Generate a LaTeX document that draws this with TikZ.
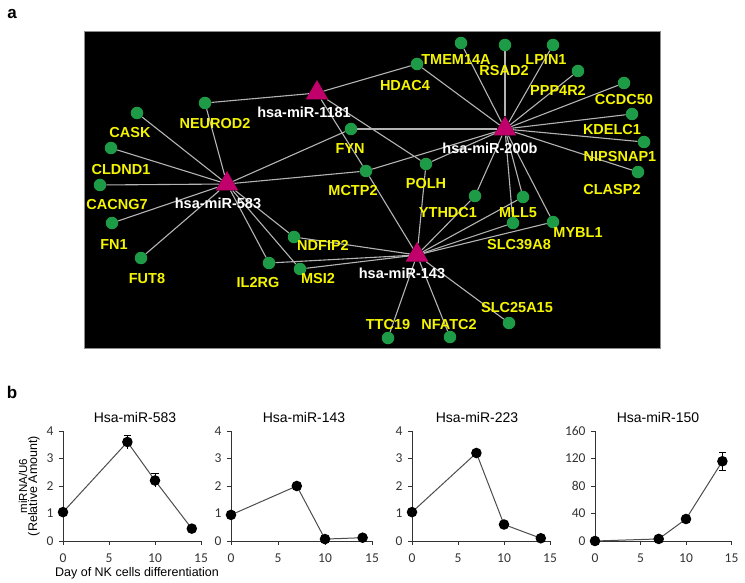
\documentclass[tikz,border=0pt]{standalone}
\usepackage{fontspec}
\setmainfont{Liberation Sans}
\newfontfamily\tickfont{Carlito}
\usepackage{tikz}
\usetikzlibrary{shapes.geometric,backgrounds}
\definecolor{netGreen}{HTML}{1E9B46}
\definecolor{netPink}{HTML}{C2006B}
\definecolor{netYellow}{HTML}{F5F500}
\definecolor{netEdge}{HTML}{B4B4B4}

\begin{document}
\begin{tikzpicture}[x=1pt, y=-1pt,
  every node/.style={font=\fontsize{14.5}{16}\selectfont\bfseries},
  gene/.style={circle, fill=netGreen, minimum size=12.5pt, inner sep=0pt},
  mir/.style={regular polygon, regular polygon sides=3, fill=netPink, minimum size=26pt, inner sep=0pt},
  glab/.style={text=netYellow, inner sep=0pt},
  mlab/.style={text=white, inner sep=0pt},
  edge/.style={netEdge, line width=1.1pt},
  panel/.style={font=\fontsize{17}{18}\selectfont\bfseries},
  ptitle/.style={font=\fontsize{14}{16}\selectfont},
  axlab/.style={font=\fontsize{12.5}{14}\selectfont},
  axisln/.style={line width=0.9pt, black!80},
  series/.style={line width=1pt, black!70},
  errbar/.style={line width=0.9pt, black},
  xtick/.style={below=6pt, inner sep=2pt, font=\tickfont\fontsize{13.5}{14}\selectfont},
  ytick/.style={left=4pt, inner sep=1pt, font=\tickfont\fontsize{13.5}{14}\selectfont}
]
  \useasboundingbox (0,0) rectangle (745,583);

  % panel a: network
  \node[panel] (pa) at (12,14) {a};
  \foreach \g/\dx/\dy/\lx/\ly in {
      NEUROD2/205/103/215/124, CASK/137/113/130/133, CLDND1/111/148/121/170,
      CACNG7/100/185/117/205, FN1/112/223/114/245, FUT8/141/258/147/279,
      IL2RG/269/263/258/283, MSI2/300/269/318/279, NDFIP2/294/237/323/245,
      MCTP2/366/171/353/191, FYN/351/129/350/149, POLH/426/164/426/184,
      HDAC4/417/64/405/86, TMEM14A/461/43/456/60, RSAD2/505/45/504/71,
      LPIN1/553/45/546/60, PPP4R2/578/71/558/90, CCDC50/624/83/624/100,
      KDELC1/632/114/612/130, NIPSNAP1/644/142/620/157, CLASP2/638/172/612/190,
      YTHDC1/475/196/448/213, MLL5/523/197/518/213, SLC39A8/513/223/519/245,
      MYBL1/553/222/578/233, SLC25A15/509/323/517/308, NFATC2/450/337/449/325,
      TTC19/388/338/388/325}
  {
    \node[gene] (\g) at (\dx,\dy) {};
    \node[glab] (\g-txt) at (\lx,\ly) {\g};
  }
  \node[mir] (m1181) at (317,93) {};
  \node[mlab] (m1181-txt) at (304,112) {hsa-miR-1181};
  \node[mir] (m583) at (227,184) {};
  \node[mlab] (m583-txt) at (218,203) {hsa-miR-583};
  \node[mir] (m200b) at (505,129) {};
  \node[mlab] (m200b-txt) at (490,148) {hsa-miR-200b};
  \node[mir] (m143) at (417,255) {};
  \node[mlab] (m143-txt) at (402,273) {hsa-miR-143};

  \begin{pgfonlayer}{background}
    \fill[black] (84,31) rectangle (660,348);
    \draw[black!45] (84,31) rectangle (660,348);
    \foreach \g in {NEUROD2,HDAC4,MCTP2,POLH}
      \draw[edge] (m1181) -- (\g);
    \foreach \g in {CASK,CLDND1,CACNG7,FN1,FUT8,NEUROD2,FYN,MCTP2,NDFIP2,IL2RG,MSI2}
      \draw[edge] (m583) -- (\g);
    \foreach \g in {HDAC4,TMEM14A,RSAD2,LPIN1,PPP4R2,CCDC50,KDELC1,NIPSNAP1,CLASP2,
                    FYN,MCTP2,POLH,YTHDC1,MLL5,SLC39A8,MYBL1}
      \draw[edge] (m200b) -- (\g);
    \foreach \g in {MCTP2,POLH,YTHDC1,MLL5,SLC39A8,MYBL1,NDFIP2,IL2RG,MSI2,TTC19,NFATC2,SLC25A15}
      \draw[edge] (m143) -- (\g);
  \end{pgfonlayer}

  % panel b: expression curves
  \node[panel] (pb) at (12,392) {b};
  \node[ptitle] (t583) at (135,417) {Hsa-miR-583};
  \node[ptitle] (t143) at (304,417) {Hsa-miR-143};
  \node[ptitle] (t223) at (477,417) {Hsa-miR-223};
  \node[ptitle] (t150) at (658,417) {Hsa-miR-150};
  \node[axlab, rotate=90] (ylab1) at (23,486) {\fontsize{11.5}{12}\selectfont miRNA/U6};
  \node[axlab, rotate=90] (ylab2) at (34,486) {(Relative Amount)};
  \node[axlab] (xlab) at (137,573) {Day of NK cells differentiation};

  \begin{scope}[shift={(63,541)}, x=9.2pt, y=27.5pt]
    \draw[axisln] (0,4) -- (0,0) -- (15,0);
    \foreach \t in {0,5,10,15} \draw[axisln] (\t,0) -- ++(0pt,-4pt) node[xtick] {\t};
    \foreach \t in {0,...,4} \draw[axisln] (0,\t) -- ++(-4pt,0pt) node[ytick] {\t};
    \draw[errbar] (7,3.36) -- (7,3.84) (6.6,3.84) -- (7.4,3.84)
                  (10,1.96) -- (10,2.44) (9.6,2.44) -- (10.4,2.44);
    \draw[series] (0,1.05) -- (7,3.6) -- (10,2.2) -- (14,0.45);
    \foreach \x/\y in {0/1.05,7/3.6,10/2.2,14/0.45} \fill (\x,\y) circle (5.3pt);
  \end{scope}

  \begin{scope}[shift={(231,541)}, x=9.4pt, y=27.5pt]
    \draw[axisln] (0,4) -- (0,0) -- (15,0);
    \foreach \t in {0,5,10,15} \draw[axisln] (\t,0) -- ++(0pt,-4pt) node[xtick] {\t};
    \foreach \t in {0,...,4} \draw[axisln] (0,\t) -- ++(-4pt,0pt) node[ytick] {\t};
    \draw[series] (0,0.95) -- (7,2.0) -- (10,0.07) -- (14,0.12);
    \foreach \x/\y in {0/0.95,7/2.0,10/0.07,14/0.12} \fill (\x,\y) circle (5.3pt);
  \end{scope}

  \begin{scope}[shift={(412,541)}, x=9.2pt, y=27.5pt]
    \draw[axisln] (0,4) -- (0,0) -- (15,0);
    \foreach \t in {0,5,10,15} \draw[axisln] (\t,0) -- ++(0pt,-4pt) node[xtick] {\t};
    \foreach \t in {0,...,4} \draw[axisln] (0,\t) -- ++(-4pt,0pt) node[ytick] {\t};
    \draw[series] (0,1.05) -- (7,3.2) -- (10,0.6) -- (14,0.1);
    \foreach \x/\y in {0/1.05,7/3.2,10/0.6,14/0.1} \fill (\x,\y) circle (5.3pt);
  \end{scope}

  \begin{scope}[shift={(595,541)}, x=9.1pt, y=0.6875pt]
    \draw[axisln] (0,160) -- (0,0) -- (15,0);
    \foreach \t in {0,5,10,15} \draw[axisln] (\t,0) -- ++(0pt,-4pt) node[xtick] {\t};
    \foreach \t in {0,40,...,160} \draw[axisln] (0,\t) -- ++(-4pt,0pt) node[ytick] {\t};
    \draw[errbar] (14,103) -- (14,129) (13.6,129) -- (14.4,129) (13.6,103) -- (14.4,103);
    \draw[series] (0,0) -- (7,3) -- (10,32) -- (14,116);
    \foreach \x/\y in {0/0,7/3,10/32,14/116} \fill (\x,\y) circle (5.3pt);
  \end{scope}
\end{tikzpicture}
\end{document}
